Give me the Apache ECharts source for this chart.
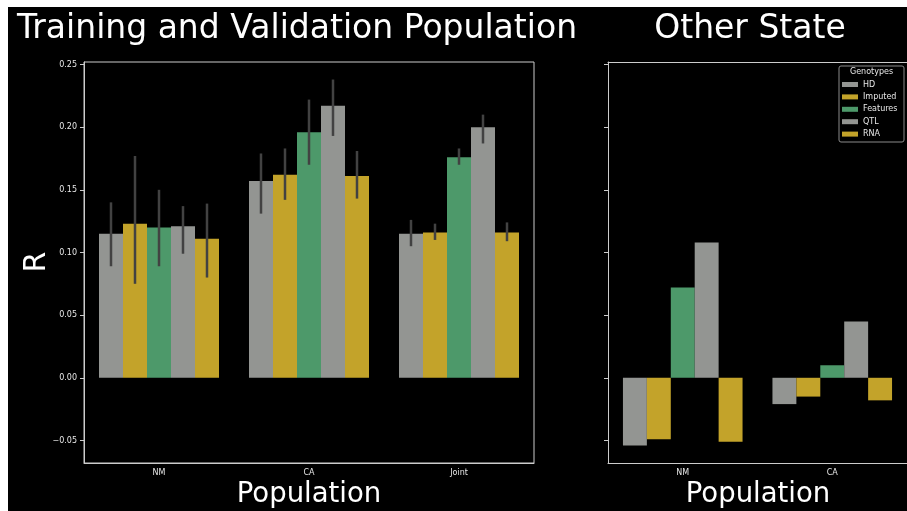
<!DOCTYPE html>
<html>
<head>
<meta charset="utf-8">
<script src="https://cdn.jsdelivr.net/npm/echarts@6/dist/echarts.min.js"></script>
<style>
  html, body { margin: 0; padding: 0; background: #ffffff; }
  #chart { width: 907px; height: 511px; }
</style>
</head>
<body>
<div id="chart"></div>
<script>
// Categories
const trainCategories = ['NM', 'CA', 'Joint'];
const otherCategories = ['NM', 'CA'];
const genotypes = ['HD', 'Imputed', 'Features', 'QTL', 'RNA'];
const genotypeColors = ['#939592', '#c3a32a', '#4d996a', '#939592', '#c3a32a'];

// Training/validation mean R per genotype (NM, CA, Joint)
const trainHD = [0.115, 0.157, 0.115];
const trainImputed = [0.123, 0.162, 0.116];
const trainFeatures = [0.120, 0.196, 0.176];
const trainQTL = [0.121, 0.217, 0.200];
const trainRNA = [0.111, 0.161, 0.116];

// Confidence interval bounds (NM, CA, Joint)
const lowHD = [0.089, 0.131, 0.105];
const highHD = [0.140, 0.179, 0.126];
const lowImputed = [0.075, 0.142, 0.110];
const highImputed = [0.177, 0.183, 0.123];
const lowFeatures = [0.089, 0.170, 0.170];
const highFeatures = [0.150, 0.222, 0.183];
const lowQTL = [0.099, 0.193, 0.187];
const highQTL = [0.137, 0.238, 0.210];
const lowRNA = [0.080, 0.143, 0.109];
const highRNA = [0.139, 0.181, 0.124];

// Other state R per genotype (NM, CA)
const otherHD = [-0.054, -0.021];
const otherImputed = [-0.049, -0.015];
const otherFeatures = [0.072, 0.010];
const otherQTL = [0.108, 0.045];
const otherRNA = [-0.051, -0.018];

// Y tick values
const yTicks = [-0.05, 0.00, 0.05, 0.10, 0.15, 0.20, 0.25];

const trainMeans = [trainHD, trainImputed, trainFeatures, trainQTL, trainRNA];
const trainLows = [lowHD, lowImputed, lowFeatures, lowQTL, lowRNA];
const trainHighs = [highHD, highImputed, highFeatures, highQTL, highRNA];
const otherMeans = [otherHD, otherImputed, otherFeatures, otherQTL, otherRNA];

const spine = '#cccccc';
const tickText = '#e6e6e6';

function fmtTick(v) {
  return v.toFixed(2).replace('-', '\u2212');
}

function xAxisFor(gridIndex, cats) {
  return {
    type: 'category', gridIndex: gridIndex, data: cats,
    axisLine: { onZero: false, lineStyle: { color: spine, width: 1 } },
    axisTick: { alignWithLabel: true, length: 4, lineStyle: { color: spine } },
    axisLabel: { color: tickText, fontSize: 8, margin: 6, fontFamily: 'DejaVu Sans' },
    splitLine: { show: false }
  };
}

function yAxisFor(gridIndex, showLabels) {
  return {
    type: 'value', gridIndex: gridIndex, min: -0.068, max: 0.252,
    axisLine: { show: true, lineStyle: { color: spine, width: 1 } },
    axisTick: { show: true, length: 4, lineStyle: { color: spine }, customValues: yTicks },
    axisLabel: { show: showLabels, color: tickText, fontSize: 8, margin: 7, fontFamily: 'DejaVu Sans',
                 customValues: yTicks, formatter: fmtTick },
    splitLine: { show: false }
  };
}

const series = [];
genotypes.forEach(function (g, i) {
  series.push({
    name: g, type: 'bar', xAxisIndex: 0, yAxisIndex: 0,
    data: trainMeans[i], barGap: '0%', barCategoryGap: '20%',
    itemStyle: { color: genotypeColors[i] }
  });
});
genotypes.forEach(function (g, i) {
  series.push({
    name: g, type: 'bar', xAxisIndex: 1, yAxisIndex: 1,
    data: otherMeans[i], barGap: '0%', barCategoryGap: '20%',
    itemStyle: { color: genotypeColors[i] }
  });
});

// Error bars: [category index, low, high, genotype index]
const errData = [];
genotypes.forEach(function (g, i) {
  trainCategories.forEach(function (c, j) {
    errData.push([j, trainLows[i][j], trainHighs[i][j], i]);
  });
});
series.push({
  type: 'custom', xAxisIndex: 0, yAxisIndex: 0, z: 10, silent: true,
  data: errData,
  renderItem: function (params, api) {
    const cat = api.value(0);
    const lo = api.coord([cat, api.value(1)]);
    const hi = api.coord([cat, api.value(2)]);
    const bw = api.size([1, 0])[0] * 0.8 / genotypes.length;
    const x = lo[0] + (api.value(3) - (genotypes.length - 1) / 2) * bw;
    return {
      type: 'line',
      shape: { x1: x, y1: lo[1], x2: x, y2: hi[1] },
      style: { stroke: '#424242', lineWidth: 2.5 }
    };
  }
});

// Top spine of the right-hand panel (its right edge runs past the canvas)
const topSpine = {
  type: 'category', gridIndex: 1, position: 'top', data: otherCategories,
  axisLine: { onZero: false, lineStyle: { color: spine, width: 1 } },
  axisTick: { show: false }, axisLabel: { show: false }, splitLine: { show: false }
};

const chart = echarts.init(document.getElementById('chart'));
chart.setOption({
  backgroundColor: '#000000',
  animation: false,
  grid: [
    { left: 84, top: 62, width: 450, height: 401, show: true, borderColor: spine, borderWidth: 1, backgroundColor: 'transparent' },
    { left: 608, top: 62, width: 300, height: 401, show: false }
  ],
  xAxis: [xAxisFor(0, trainCategories), xAxisFor(1, otherCategories), topSpine],
  yAxis: [yAxisFor(0, true), yAxisFor(1, false)],
  legend: {
    data: genotypes, orient: 'vertical', left: 842, top: 79.5, padding: 0,
    itemWidth: 16, itemHeight: 5, itemGap: 2.4, icon: 'rect',
    textStyle: { color: tickText, fontSize: 8, lineHeight: 10, fontFamily: 'DejaVu Sans' },
    selectedMode: false
  },
  graphic: [
    { type: 'rect', left: 0, top: 0, shape: { width: 907, height: 7 }, style: { fill: '#ffffff' }, z: 100 },
    { type: 'rect', left: 0, top: 0, shape: { width: 8, height: 511 }, style: { fill: '#ffffff' }, z: 100 },
    { type: 'rect', shape: { x: 839, y: 66, width: 65, height: 76, r: 2 },
      style: { fill: '#000000', stroke: '#8a8a8a', lineWidth: 1 }, z: -1 },
    { type: 'text', x: 871.5, y: 72, style: { text: 'Genotypes', fill: tickText, font: '8px "DejaVu Sans"', textAlign: 'center', textVerticalAlign: 'middle' } },
    { type: 'text', x: 297, y: 29.5, style: { text: 'Training and Validation Population', fill: '#ffffff', font: '33px "DejaVu Sans"', textAlign: 'center', textVerticalAlign: 'middle' } },
    { type: 'text', x: 750, y: 29.5, style: { text: 'Other State', fill: '#ffffff', font: '33px "DejaVu Sans"', textAlign: 'center', textVerticalAlign: 'middle' } },
    { type: 'text', x: 309, y: 494.5, style: { text: 'Population', fill: '#ffffff', font: '27.5px "DejaVu Sans"', textAlign: 'center', textVerticalAlign: 'middle' } },
    { type: 'text', x: 758, y: 494.5, style: { text: 'Population', fill: '#ffffff', font: '27.5px "DejaVu Sans"', textAlign: 'center', textVerticalAlign: 'middle' } },
    { type: 'text', x: 37, y: 262, rotation: Math.PI / 2, style: { text: 'R', fill: '#ffffff', font: '30px "DejaVu Sans"', textAlign: 'center', textVerticalAlign: 'middle' } }
  ],
  series: series
});
</script>
</body>
</html>
